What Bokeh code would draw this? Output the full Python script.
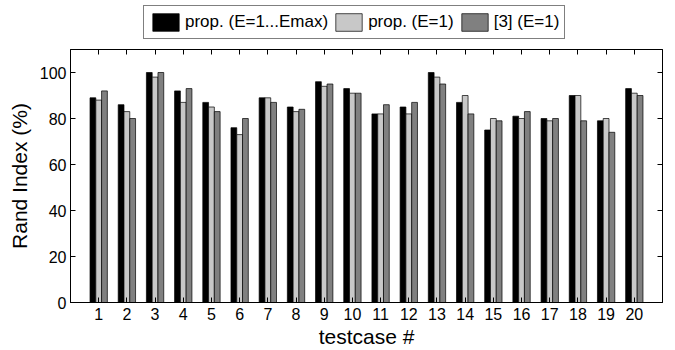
from bokeh.plotting import figure
from bokeh.models import (Range1d, FixedTicker, LinearAxis, ColumnDataSource, Legend, LegendItem)
from bokeh.layouts import column
from bokeh.transform import dodge
from bokeh.embed import file_html
from bokeh.resources import INLINE

testcases = list(range(1, 21))
prop_emax = [89, 86, 100, 92, 87, 76, 89, 85, 96, 93, 82, 85, 100, 87, 75, 81, 80, 90, 79, 93]
prop_e1 = [88, 83, 98, 87, 85, 73, 89, 83, 94, 91, 82, 82, 98, 90, 80, 80, 79, 90, 80, 91]
ref3_e1 = [92, 80, 100, 93, 83, 80, 87, 84, 95, 91, 86, 87, 95, 82, 79, 83, 80, 79, 74, 90]
series_names = ["prop. (E=1...Emax)", "prop. (E=1)", "[3] (E=1)"]
series_colors = ["#000000", "#c8c8c8", "#808080"]
y_ticks = [0, 20, 40, 60, 80, 100]

FONT = "Liberation Sans"

# ---------- main chart ----------
p = figure(width=675, height=310, output_backend="svg", toolbar_location=None,
           x_range=Range1d(0, 21), y_range=Range1d(0, 110),
           min_border_left=70, min_border_right=13, min_border_top=9, min_border_bottom=43)
p.xgrid.visible = False
p.ygrid.visible = False
p.outline_line_color = "black"
p.outline_line_width = 1
p.background_fill_color = "white"
p.border_fill_color = "white"

src = ColumnDataSource(dict(x=testcases, a=prop_emax, b=prop_e1, c=ref3_e1))
offsets = [-0.205, 0.0, 0.205]
cols = ["a", "b", "c"]
for col, off, color in zip(cols, offsets, series_colors):
    p.vbar(x=dodge("x", off, range=p.x_range), top=col, width=0.205, bottom=0,
           source=src, fill_color=color, line_color="black", line_width=0.7)

def style_axis(ax, labels=True):
    ax.axis_line_color = "black"
    ax.axis_line_width = 1
    ax.major_tick_in = 5
    ax.major_tick_out = 0
    ax.minor_tick_line_color = None
    ax.major_tick_line_color = "black"
    ax.major_label_text_font = FONT
    ax.major_label_text_color = "black"
    ax.axis_label_text_font = FONT
    ax.axis_label_text_font_style = "normal"
    ax.axis_label_text_color = "black"
    if not labels:
        ax.major_label_text_font_size = "1px"
        ax.major_label_text_color = None
        ax.major_label_standoff = 0

xa = p.xaxis[0]
xa.ticker = FixedTicker(ticks=testcases)
style_axis(xa)
xa.major_label_text_font_size = "16px"
xa.major_label_standoff = 5
xa.axis_label = "testcase #"
xa.axis_label_text_font_size = "21px"
xa.axis_label_standoff = 2

ya = p.yaxis[0]
ya.ticker = FixedTicker(ticks=y_ticks)
style_axis(ya)
ya.major_label_text_font_size = "16px"
ya.major_label_standoff = 4
ya.axis_label = "Rand Index (%)"
ya.axis_label_text_font_size = "21px"
ya.axis_label_standoff = 6

right_ax = LinearAxis(ticker=FixedTicker(ticks=y_ticks))
style_axis(right_ax, labels=False)
p.add_layout(right_ax, "right")

top_ax = LinearAxis(ticker=FixedTicker(ticks=testcases))
style_axis(top_ax, labels=False)
p.add_layout(top_ax, "above")

# ---------- legend strip ----------
lg = figure(width=675, height=40, output_backend="svg", toolbar_location=None,
            x_range=Range1d(0, 1), y_range=Range1d(0, 1),
            x_axis_location=None, y_axis_location=None,
            min_border_left=70, min_border_right=13, min_border_top=0, min_border_bottom=0)
lg.xgrid.visible = False
lg.ygrid.visible = False
lg.outline_line_color = None
lg.background_fill_color = "white"
lg.border_fill_color = "white"
proxies = []
for col, color in zip([prop_emax, prop_e1, ref3_e1], series_colors):
    r = lg.vbar(x=[testcases[0]], top=[col[0]], width=0.1, fill_color=color,
                line_color="black", line_width=0.7)
    r.visible = False
    proxies.append(r)

legend = Legend(items=[LegendItem(label=n, renderers=[r]) for n, r in zip(series_names, proxies)],
                location=(73, 1), orientation="horizontal")
legend.border_line_color = "black"
legend.border_line_width = 1
legend.background_fill_color = "white"
legend.background_fill_alpha = 1
legend.inactive_fill_alpha = 0
legend.click_policy = "none"
legend.label_text_font = FONT
legend.label_text_font_size = "17px"
legend.label_text_color = "black"
legend.glyph_width = 33
legend.glyph_height = 22
legend.label_standoff = 3
legend.spacing = 4
legend.padding = 5
legend.margin = 0
lg.add_layout(legend, "center")

layout = column(lg, p, spacing=0)
open("out.html", "w").write(file_html(layout, INLINE))
